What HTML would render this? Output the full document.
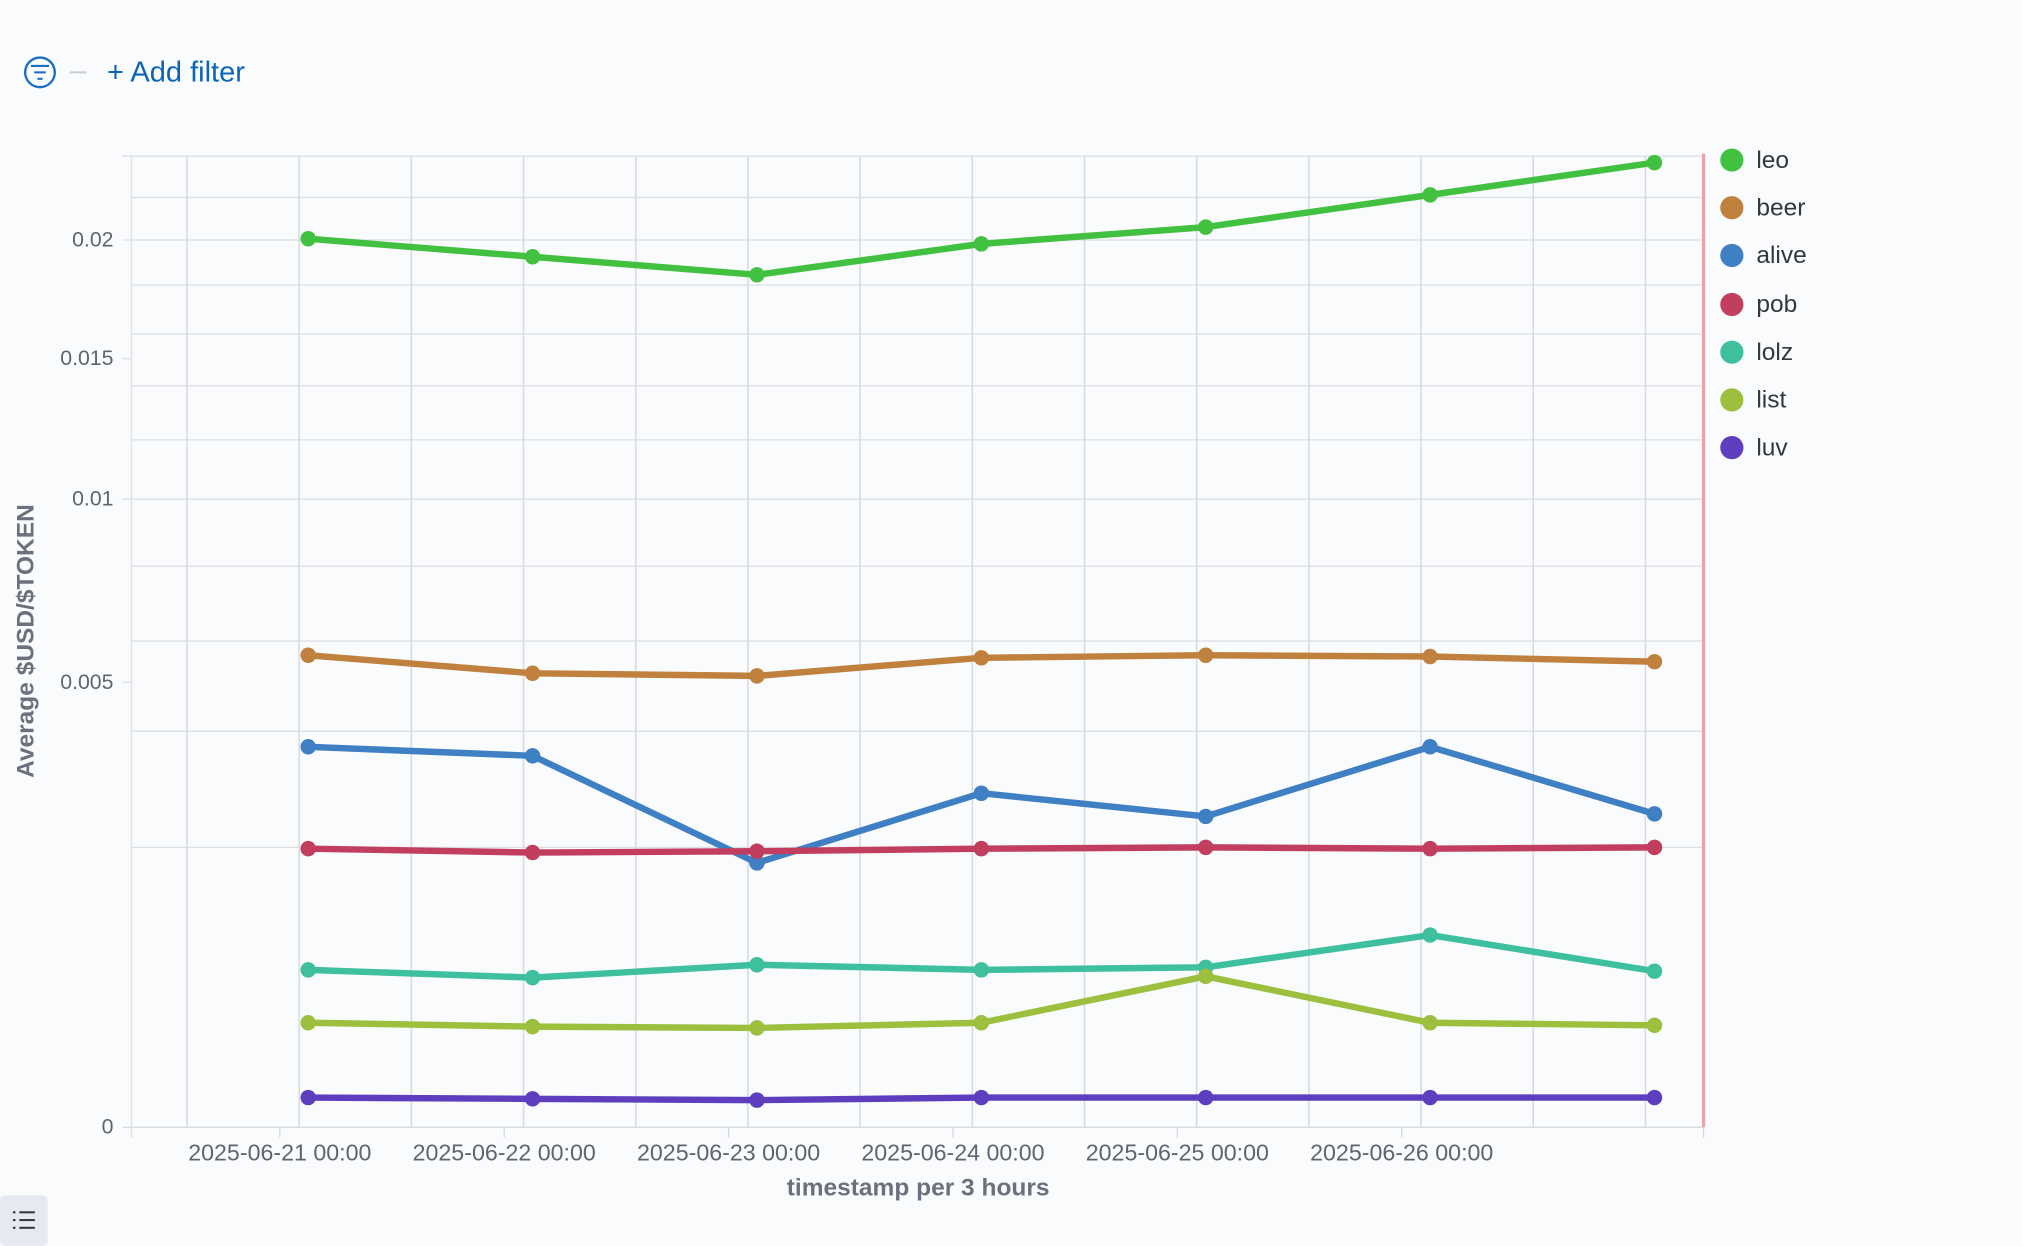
<!DOCTYPE html>
<html><head><meta charset="utf-8"><style>
html,body{margin:0;padding:0;background:#f9fbfd;}
svg{display:block;font-family:"Liberation Sans",sans-serif;}
</style></head><body>
<svg width="2022" height="1246" viewBox="0 0 1568 966" xmlns="http://www.w3.org/2000/svg">
<rect width="1568" height="966" fill="#f9fbfd"/>
<!-- filter bar -->
<circle cx="31" cy="56" r="11.5" fill="none" stroke="#1a6fbf" stroke-width="1.8"/>
<line x1="24" y1="51" x2="38" y2="51" stroke="#1a6fbf" stroke-width="1.6"/>
<line x1="26.5" y1="56" x2="35.5" y2="56" stroke="#1a6fbf" stroke-width="1.6"/>
<line x1="29" y1="61" x2="33" y2="61" stroke="#1a6fbf" stroke-width="1.6"/>
<line x1="54" y1="56" x2="67" y2="56" stroke="#c8cdd5" stroke-width="1.5"/>
<text x="83" y="63" font-size="22.5" fill="#0b64b8">+ Add filter</text>
<!-- grid -->
<g stroke="#dcdfe4" stroke-width="1">
<line x1="95" y1="121" x2="1321" y2="121"/>
<line x1="102" y1="153" x2="1321" y2="153"/>
<line x1="95" y1="186" x2="1321" y2="186"/>
<line x1="102" y1="221" x2="1321" y2="221"/>
<line x1="102" y1="259" x2="1321" y2="259"/>
<line x1="102" y1="299" x2="1321" y2="299"/>
<line x1="102" y1="341" x2="1321" y2="341"/>
<line x1="95" y1="387" x2="1321" y2="387"/>
<line x1="102" y1="439" x2="1321" y2="439"/>
<line x1="102" y1="497" x2="1321" y2="497"/>
<line x1="95" y1="529" x2="102" y2="529"/>
<line x1="102" y1="567" x2="1321" y2="567"/>
<line x1="102" y1="657" x2="1321" y2="657"/>
<line x1="95" y1="278" x2="102" y2="278"/>
<line x1="95" y1="874" x2="1321" y2="874" stroke="#d3d7dd"/>
<line x1="102" y1="121" x2="102" y2="882"/>
</g>
<g stroke="#d7dae0" stroke-width="1.2">
<line x1="145" y1="121" x2="145" y2="874"/><line x1="232" y1="121" x2="232" y2="874"/>
<line x1="319" y1="121" x2="319" y2="874"/><line x1="406" y1="121" x2="406" y2="874"/>
<line x1="493" y1="121" x2="493" y2="874"/><line x1="580" y1="121" x2="580" y2="874"/>
<line x1="667" y1="121" x2="667" y2="874"/><line x1="754" y1="121" x2="754" y2="874"/>
<line x1="841" y1="121" x2="841" y2="874"/><line x1="928" y1="121" x2="928" y2="874"/>
<line x1="1015" y1="121" x2="1015" y2="874"/><line x1="1102" y1="121" x2="1102" y2="874"/>
<line x1="1189" y1="121" x2="1189" y2="874"/><line x1="1276" y1="121" x2="1276" y2="874"/>
</g>
<g stroke="#d3d7dd" stroke-width="1">
<line x1="217" y1="874" x2="217" y2="882"/><line x1="391" y1="874" x2="391" y2="882"/>
<line x1="565" y1="874" x2="565" y2="882"/><line x1="739" y1="874" x2="739" y2="882"/>
<line x1="913" y1="874" x2="913" y2="882"/><line x1="1087" y1="874" x2="1087" y2="882"/>
<line x1="1321" y1="874" x2="1321" y2="882"/>
</g>
<line x1="1321" y1="119" x2="1321" y2="874" stroke="#e8a4a8" stroke-width="2.5"/>
<!-- y labels -->
<g font-size="16.5" fill="#5f6570" text-anchor="end">
<text x="88" y="191">0.02</text><text x="88" y="283">0.015</text>
<text x="88" y="392">0.01</text><text x="88" y="534">0.005</text>
<text x="88" y="879">0</text>
</g>
<text transform="translate(26,497) rotate(-90)" font-size="19" font-weight="bold" fill="#6a717d" text-anchor="middle">Average $USD/$TOKEN</text>
<g font-size="18" fill="#5f6570" text-anchor="middle">
<text x="217" y="900">2025-06-21 00:00</text><text x="391" y="900">2025-06-22 00:00</text>
<text x="565" y="900">2025-06-23 00:00</text><text x="739" y="900">2025-06-24 00:00</text>
<text x="913" y="900">2025-06-25 00:00</text><text x="1087" y="900">2025-06-26 00:00</text>
</g>
<text x="712" y="927" font-size="19" font-weight="bold" fill="#6a717d" text-anchor="middle">timestamp per 3 hours</text>
<!-- series -->
<g fill="none" stroke-width="5" stroke-linejoin="round">
<polyline stroke="#41c13f" points="239,185 413,199 587,213 761,189 935,176 1109,151 1283,126"/>
<polyline stroke="#c1813e" points="239,508 413,522 587,524 761,510 935,508 1109,509 1283,513"/>
<polyline stroke="#3f7fc4" points="239,579 413,586 587,669 761,615 935,633 1109,579 1283,631"/>
<polyline stroke="#c23e5f" points="239,658 413,661 587,660 761,658 935,657 1109,658 1283,657"/>
<polyline stroke="#3ebf9e" points="239,752 413,758 587,748 761,752 935,750 1109,725 1283,753"/>
<polyline stroke="#9cbf3e" points="239,793 413,796 587,797 761,793 935,757 1109,793 1283,795"/>
<polyline stroke="#5e3ebf" points="239,851 413,852 587,853 761,851 935,851 1109,851 1283,851"/>
</g>
<g fill="#41c13f"><circle cx="239" cy="185" r="6"/><circle cx="413" cy="199" r="6"/><circle cx="587" cy="213" r="6"/><circle cx="761" cy="189" r="6"/><circle cx="935" cy="176" r="6"/><circle cx="1109" cy="151" r="6"/><circle cx="1283" cy="126" r="6"/></g>
<g fill="#c1813e"><circle cx="239" cy="508" r="6"/><circle cx="413" cy="522" r="6"/><circle cx="587" cy="524" r="6"/><circle cx="761" cy="510" r="6"/><circle cx="935" cy="508" r="6"/><circle cx="1109" cy="509" r="6"/><circle cx="1283" cy="513" r="6"/></g>
<g fill="#3f7fc4"><circle cx="239" cy="579" r="6"/><circle cx="413" cy="586" r="6"/><circle cx="587" cy="669" r="6"/><circle cx="761" cy="615" r="6"/><circle cx="935" cy="633" r="6"/><circle cx="1109" cy="579" r="6"/><circle cx="1283" cy="631" r="6"/></g>
<g fill="#c23e5f"><circle cx="239" cy="658" r="6"/><circle cx="413" cy="661" r="6"/><circle cx="587" cy="660" r="6"/><circle cx="761" cy="658" r="6"/><circle cx="935" cy="657" r="6"/><circle cx="1109" cy="658" r="6"/><circle cx="1283" cy="657" r="6"/></g>
<g fill="#3ebf9e"><circle cx="239" cy="752" r="6"/><circle cx="413" cy="758" r="6"/><circle cx="587" cy="748" r="6"/><circle cx="761" cy="752" r="6"/><circle cx="935" cy="750" r="6"/><circle cx="1109" cy="725" r="6"/><circle cx="1283" cy="753" r="6"/></g>
<g fill="#9cbf3e"><circle cx="239" cy="793" r="6"/><circle cx="413" cy="796" r="6"/><circle cx="587" cy="797" r="6"/><circle cx="761" cy="793" r="6"/><circle cx="935" cy="757" r="6"/><circle cx="1109" cy="793" r="6"/><circle cx="1283" cy="795" r="6"/></g>
<g fill="#5e3ebf"><circle cx="239" cy="851" r="6"/><circle cx="413" cy="852" r="6"/><circle cx="587" cy="853" r="6"/><circle cx="761" cy="851" r="6"/><circle cx="935" cy="851" r="6"/><circle cx="1109" cy="851" r="6"/><circle cx="1283" cy="851" r="6"/></g>
<!-- legend -->
<g font-size="19" fill="#343741">
<circle cx="1343" cy="124" r="9" fill="#41c13f"/><text x="1362" y="130">leo</text>
<circle cx="1343" cy="161" r="9" fill="#c1813e"/><text x="1362" y="167">beer</text>
<circle cx="1343" cy="198" r="9" fill="#3f7fc4"/><text x="1362" y="204">alive</text>
<circle cx="1343" cy="236" r="9" fill="#c23e5f"/><text x="1362" y="242">pob</text>
<circle cx="1343" cy="273" r="9" fill="#3ebf9e"/><text x="1362" y="279">lolz</text>
<circle cx="1343" cy="310" r="9" fill="#9cbf3e"/><text x="1362" y="316">list</text>
<circle cx="1343" cy="347" r="9" fill="#5e3ebf"/><text x="1362" y="353">luv</text>
</g>
<!-- bottom-left button -->
<rect x="0" y="927" width="37" height="39" rx="4" fill="#e6eaf0"/>
<g stroke="#343741" stroke-width="1.6">
<line x1="10" y1="940" x2="12" y2="940"/><line x1="15" y1="940" x2="27" y2="940"/>
<line x1="10" y1="946" x2="12" y2="946"/><line x1="15" y1="946" x2="27" y2="946"/>
<line x1="10" y1="952" x2="12" y2="952"/><line x1="15" y1="952" x2="27" y2="952"/>
</g>
</svg>
</body></html>
